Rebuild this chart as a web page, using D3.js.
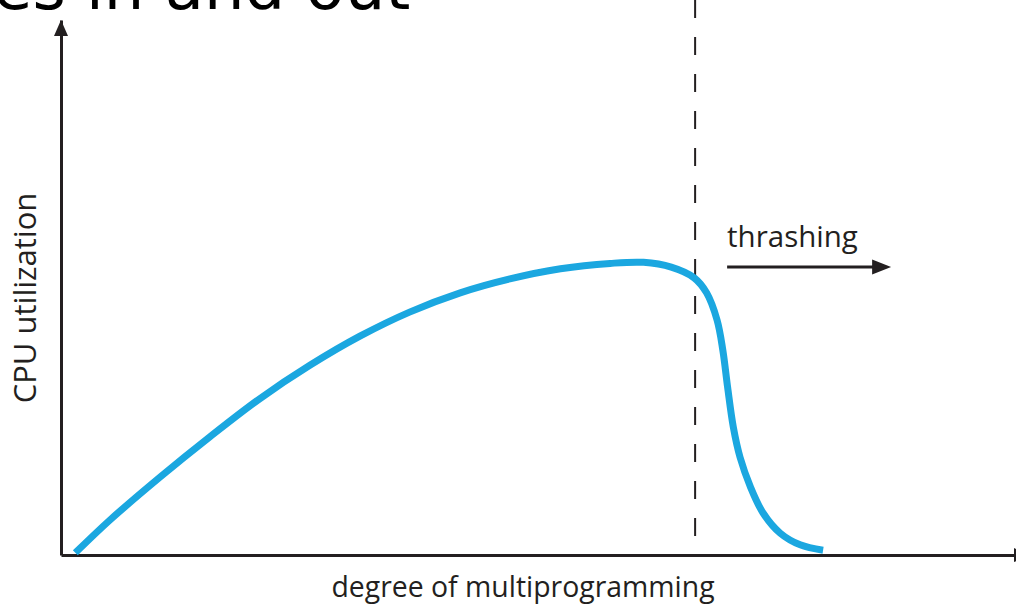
<!DOCTYPE html>
<html>
<head>
<meta charset="utf-8">
<script src="https://cdn.jsdelivr.net/npm/d3@7"></script>
<style>
  html, body { margin: 0; padding: 0; background: #fff; overflow: hidden; }
  svg { display: block; }
</style>
</head>
<body>
<svg id="chart" width="1016" height="610"></svg>
<script>
// Degree of multiprogramming (x, 0-100) vs. CPU utilization (y, 0-100)
const degree = [1.5, 5.1, 10.4, 15.6, 20.8, 26.1, 31.3, 36.5, 41.8, 47.0, 52.3, 57.5, 61.0, 63.9, 66.3, 67.6, 68.7, 69.3, 69.8, 70.4, 71.1, 72.2, 73.5, 75.3, 77.4, 79.8];
const utilization = [0.4, 6.5, 14.6, 22.1, 29.2, 35.5, 40.9, 45.4, 49.0, 51.6, 53.5, 54.5, 54.7, 53.8, 51.8, 49.0, 43.9, 38.3, 31.4, 23.9, 18.3, 12.7, 7.9, 4.1, 1.9, 0.9];

// Point where thrashing sets in
const thrashingStart = [66.4];

const labels = {
  title: "es in and out",
  xAxis: "degree of multiprogramming",
  yAxis: "CPU utilization",
  marker: "thrashing"
};

const ink = "#231f20";
const curveColor = "#1ba7e0";
const labelFont = "'Open Sans', 'Noto Sans', sans-serif";

const svg = d3.select("#chart");

const x = d3.scaleLinear().domain([0, 100]).range([61, 1016]);
const y = d3.scaleLinear().domain([0, 100]).range([555, 20]);

// Slide heading, partly outside the frame
svg.append("text")
  .attr("x", -7)
  .attr("y", 9)
  .attr("font-family", "'DejaVu Sans', sans-serif")
  .attr("font-size", 64)
  .attr("fill", "#000")
  .text(labels.title);

// Axes: plain lines with arrowheads, no ticks
const yAxis = svg.append("g")
  .attr("transform", `translate(${x(0)},0)`)
  .call(d3.axisLeft(y).tickValues([]).tickSizeOuter(0));
yAxis.select(".domain").attr("stroke", ink).attr("stroke-width", 3);

const xAxis = svg.append("g")
  .attr("transform", `translate(0,${y(0)})`)
  .call(d3.axisBottom(x).tickValues([]).tickSizeOuter(0));
xAxis.select(".domain").attr("stroke", ink).attr("stroke-width", 3);

// Extend the x axis beyond the frame and cap both axes with arrowheads
const [x0, x1] = x.range();
const [yBottom, yTop] = y.range();
svg.append("line")
  .attr("x1", x1).attr("x2", x1 + 2)
  .attr("y1", yBottom).attr("y2", yBottom)
  .attr("stroke", ink).attr("stroke-width", 3);

svg.append("path")
  .attr("d", `M${x0},${yTop} L${x0 - 7},${yTop + 16} L${x0 + 7},${yTop + 16} Z`)
  .attr("fill", ink);
svg.append("path")
  .attr("d", `M${x1 + 14},${yBottom} L${x1 - 2},${yBottom - 7} L${x1 - 2},${yBottom + 7} Z`)
  .attr("fill", ink);

// Dashed marker at the onset of thrashing
svg.selectAll("line.threshold")
  .data(thrashingStart)
  .join("line")
  .attr("class", "threshold")
  .attr("x1", d => x(d)).attr("x2", d => x(d))
  .attr("y1", 0).attr("y2", yBottom - 4)
  .attr("stroke", ink)
  .attr("stroke-width", 2)
  .attr("stroke-dasharray", "18,19");

// Utilization curve
const points = degree.map((d, i) => [d, utilization[i]]);
const line = d3.line()
  .x(d => x(d[0]))
  .y(d => y(d[1]))
  .curve(d3.curveCatmullRom.alpha(0.5));

svg.append("path")
  .datum(points)
  .attr("d", line)
  .attr("fill", "none")
  .attr("stroke", curveColor)
  .attr("stroke-width", 7)
  .attr("stroke-linecap", "butt")
  .attr("stroke-linejoin", "round");

// Thrashing label and arrow
const tx = x(thrashingStart[0]) + 32;
svg.append("text")
  .attr("x", tx)
  .attr("y", 247)
  .attr("font-family", labelFont)
  .attr("font-size", 29.5)
  .attr("fill", ink)
  .text(labels.marker);
svg.append("line")
  .attr("x1", tx).attr("x2", tx + 150)
  .attr("y1", 267).attr("y2", 267)
  .attr("stroke", ink).attr("stroke-width", 3);
svg.append("path")
  .attr("d", `M${tx + 164},267 L${tx + 145},259.5 L${tx + 145},274.5 Z`)
  .attr("fill", ink);

// Axis titles
svg.append("text")
  .attr("x", 523)
  .attr("y", 597)
  .attr("text-anchor", "middle")
  .attr("font-family", labelFont)
  .attr("font-size", 28.4)
  .attr("fill", ink)
  .text(labels.xAxis);

svg.append("text")
  .attr("transform", "translate(36,298) rotate(-90)")
  .attr("text-anchor", "middle")
  .attr("font-family", labelFont)
  .attr("font-size", 31)
  .attr("fill", ink)
  .text(labels.yAxis);
</script>
</body>
</html>
